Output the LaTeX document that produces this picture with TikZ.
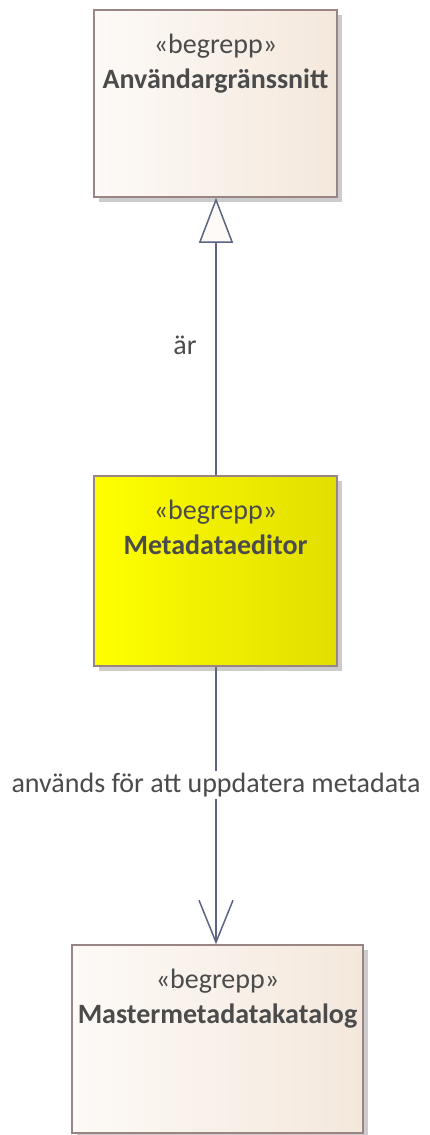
\documentclass[tikz,border=0pt]{standalone}
\usepackage{fontspec}
\setmainfont{Carlito}
\usetikzlibrary{arrows.meta}
\usetikzlibrary{shadows}

\definecolor{begreppleft}{HTML}{FDFAF7}
\definecolor{begreppright}{HTML}{F4E8DC}
\definecolor{boxline}{HTML}{9A8585}
\definecolor{textgray}{HTML}{4B4B4B}
\definecolor{linkblue}{HTML}{5B6480}

\tikzset{
    begrepp/.style = {draw = boxline, line width = 1.5pt, inner sep = 0pt,
        left color = begreppleft, right color = begreppright,
        drop shadow = {shadow xshift = 5pt, shadow yshift = -5pt,
            fill = black, opacity = 0.2},
        text = textgray, font = \fontsize{28}{35}\selectfont},
    editor/.style = {begrepp, left color = yellow, right color = {rgb,255:red,226;green,222;blue,0}},
    link/.style = {draw = linkblue, line width = 1.5pt},
    linklabel/.style = {text = textgray, font = \fontsize{28}{30}\selectfont}
}

% box text sits at the top
\newcommand{\boxtext}[3]{\parbox[c][#2pt][t]{#1pt}{\centering\vspace*{24pt}\guillemotleft begrepp\guillemotright\\ \textbf{#3}}}

\begin{document}
\begin{tikzpicture}[x = 1pt, y = -1pt]
    \useasboundingbox (0,0) rectangle (430,1135);

    \node [begrepp] (grans) at (215.5,103.5) {\boxtext{243}{187}{Användargränssnitt}};
    \node [editor] (editor) at (215.5,571) {\boxtext{243}{190}{Metadataeditor}};
    \node [begrepp] (master) at (217.5,1039) {\boxtext{291}{188}{Mastermetadatakatalog}};

    % generalisation, open triangle
    \draw [link, -{Triangle[open, length = 45pt, width = 34pt, fill = begreppleft]}]
        (editor.north -| 216,0) -- (grans.south -| 216,0);
    \node [linklabel] (ar) at (185,345) {är};

    % association, open barb
    \draw [link, -{Straight Barb[length = 42pt, width = 34pt]}]
        (editor.south -| 216,0) -- (master.north -| 216,0);
    \node [linklabel, fill = white, inner sep = 2pt] (anvands) at (216,785)
        {används för att uppdatera metadata};
\end{tikzpicture}
\end{document}
